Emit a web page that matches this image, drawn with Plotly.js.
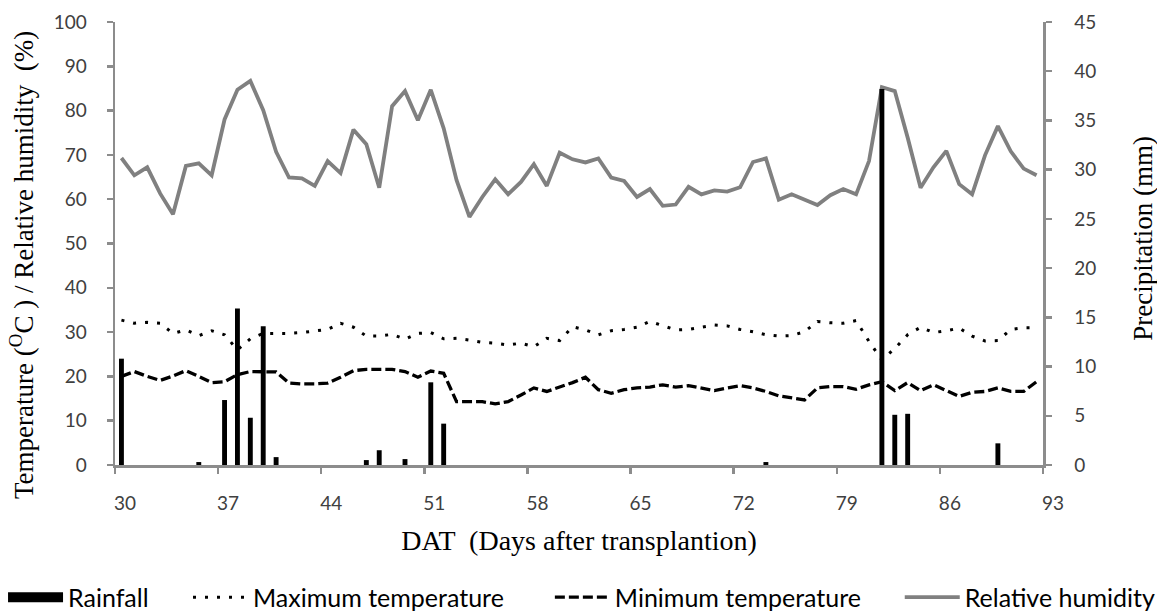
<!DOCTYPE html>
<html>
<head>
<meta charset="utf-8">
<script src="https://cdn.plot.ly/plotly-3.0.1.min.js"></script>
<style>html,body{margin:0;padding:0;background:#fff;}#chart{width:1157px;height:612px;}</style>
</head>
<body>
<div id="chart"></div>
<script>
// Tick labels along the DAT axis (one label every 8 observations)
var datTickLabels = ['30','37','44','51','58','65','72','79','86','93'];

// Axis titles
var xTitle = 'DAT  (Days after transplantion)';
var yLeftTitle = 'Temperature (<sup>O</sup>C ) / Relative humidity  (%)';
var yRightTitle = 'Precipitation (mm)';

// Rainfall (mm), one value per observation
var rainfall = [10.8,0,0,0,0,0,0.3,0,6.6,15.9,
  4.8,14.1,0.8,0,0,0,0,0,0,0.5,
  1.5,0,0.6,0,8.4,4.2,0,0,0,0,
  0,0,0,0,0,0,0,0,0,0,
  0,0,0,0,0,0,0,0,0,0,
  0.3,0,0,0,0,0,0,0,0,38.2,
  5.1,5.2,0,0,0,0,0,0,2.2,0,
  0,0];

// Maximum temperature (°C)
var maxTemp = [32.7,32.0,32.2,32.0,29.7,30.5,29.2,30.3,29.4,26.0,
  28.5,29.7,29.7,29.7,29.9,30.3,30.6,32.0,31.1,29.1,
  29.1,29.5,28.4,29.7,29.9,28.5,28.6,28.2,27.7,27.5,
  27.1,27.5,26.7,28.6,28.1,31.2,30.5,29.4,30.3,30.6,
  31.1,32.4,31.4,30.5,30.6,31.1,31.6,31.4,30.6,30.1,
  29.4,29.1,29.2,30.1,32.4,32.1,32.0,32.6,27.9,23.7,
  26.3,29.4,31.1,29.9,30.3,30.9,29.1,28.0,28.1,30.6,
  31.0,31.0];

// Minimum temperature (°C)
var minTemp = [20.0,21.1,20.0,19.1,20.1,21.3,20.0,18.6,18.8,20.4,
  21.1,21.1,21.0,18.5,18.3,18.3,18.5,19.8,21.3,21.6,
  21.6,21.6,21.1,19.8,21.2,20.7,14.3,14.3,14.3,13.8,
  14.3,15.8,17.4,16.6,17.6,18.6,19.8,17.0,16.2,17.0,
  17.4,17.6,18.1,17.6,17.9,17.4,16.8,17.4,17.9,17.4,
  16.6,15.6,15.1,14.7,17.4,17.7,17.7,17.1,18.1,18.8,
  16.8,18.6,16.8,18.1,16.8,15.5,16.4,16.6,17.4,16.6,
  16.6,18.8];

// Relative humidity (%)
var relHumidity = [69.3,65.4,67.2,61.3,56.6,67.5,68.1,65.4,78.0,84.7,
  86.7,80.1,70.7,64.9,64.7,63.0,68.6,65.9,75.7,72.4,
  62.6,81.0,84.4,77.8,84.7,76.0,64.3,56.0,60.5,64.5,
  61.1,63.9,67.9,63.0,70.5,69.0,68.3,69.2,64.9,64.1,
  60.5,62.3,58.5,58.8,62.8,61.1,62.0,61.7,62.7,68.4,
  69.2,59.9,61.1,59.9,58.7,60.9,62.3,61.1,68.6,85.3,
  84.4,73.9,62.6,67.2,70.9,63.4,61.1,69.9,76.5,70.8,
  66.9,65.4];

var n = relHumidity.length;
var tickPositions = datTickLabels.map(function(_, k){ return -0.5 + k * 8; });

var sans = 'Lato, "Open Sans", sans-serif';
var serif = '"Liberation Serif", "Times New Roman", serif';

var traces = [
  { // legend-only key for rainfall (wide black block like the original key)
    type: 'scatter', mode: 'lines', x: [null], y: [null], legend: 'legend',
    name: 'Rainfall', line: {color: '#000000', width: 15}, hoverinfo: 'skip'
  },
  {
    type: 'scatter', mode: 'lines', y: maxTemp, name: 'Maximum temperature', legend: 'legend2',
    line: {color: '#000000', width: 3, dash: '3px,9px'}
  },
  {
    type: 'scatter', mode: 'lines', y: minTemp, name: 'Minimum temperature', legend: 'legend3',
    line: {color: '#000000', width: 3.3, dash: '10px,4px'}
  },
  {
    type: 'scatter', mode: 'lines', y: relHumidity, name: 'Relative humidity', legend: 'legend4',
    line: {color: '#808080', width: 3.8}
  },
  {
    type: 'bar', y: rainfall, yaxis: 'y2', name: 'Rainfall', showlegend: false,
    marker: {color: '#000000', line: {width: 0}}
  }
];

var axisLine = '#8c8c8c';
var tickFont = {family: sans, size: 19, color: '#404040'};
var titleFont = {family: serif, size: 27, color: '#000'};
function legendAt(xpx) {
  return {
    orientation: 'h', x: (xpx - 115) / 928.3, xanchor: 'left',
    y: -0.299, yanchor: 'middle',
    font: {family: sans, size: 25, color: '#000'},
    itemwidth: 55, bgcolor: 'rgba(0,0,0,0)', borderwidth: 0
  };
}

var layout = {
  width: 1157, height: 612,
  margin: {l: 115, r: 114, t: 22, b: 147, autoexpand: false},
  paper_bgcolor: '#ffffff', plot_bgcolor: '#ffffff',
  showlegend: true,
  bargap: 0.62,
  xaxis: {
    range: [-0.5, n - 0.5], automargin: false,
    tickmode: 'array', tickvals: tickPositions, ticktext: datTickLabels,
    showgrid: false, zeroline: false,
    showline: true, linecolor: axisLine, linewidth: 2.5,
    ticks: 'outside', ticklen: 6, tickwidth: 2.5, tickcolor: axisLine,
    tickfont: tickFont, ticklabelstandoff: 14, ticklabelshift: 10,
    title: {text: xTitle, font: {family: serif, size: 28, color: '#000'}, standoff: 17}
  },
  yaxis: {
    range: [0, 100], dtick: 10, automargin: false,
    showgrid: false, zeroline: false,
    showline: true, linecolor: axisLine, linewidth: 2.5,
    ticks: 'outside', ticklen: 6, tickwidth: 2.5, tickcolor: axisLine,
    tickfont: tickFont, ticklabelstandoff: 16
  },
  yaxis2: {
    overlaying: 'y', side: 'right', automargin: false,
    range: [0, 45], dtick: 5,
    showgrid: false, zeroline: false,
    showline: true, linecolor: axisLine, linewidth: 2.5,
    ticks: 'outside', ticklen: 6, tickwidth: 2.5, tickcolor: axisLine,
    tickfont: tickFont, ticklabelstandoff: 19
  },
  annotations: [
    {text: yLeftTitle, xref: 'paper', yref: 'paper', x: (22 - 115) / 928.3, y: (465.3 - 265) / 443.7,
     xanchor: 'center', yanchor: 'middle', textangle: -90, showarrow: false, font: titleFont},
    {text: yRightTitle, xref: 'paper', yref: 'paper', x: (1143 - 115) / 928.3, y: (465.3 - 238) / 443.7,
     xanchor: 'center', yanchor: 'middle', textangle: -90, showarrow: false, font: titleFont}
  ],
  legend: legendAt(3),
  legend2: legendAt(188),
  legend3: legendAt(550),
  legend4: legendAt(900)
};

Plotly.newPlot('chart', traces, layout, {displayModeBar: false, staticPlot: true});
</script>
</body>
</html>
